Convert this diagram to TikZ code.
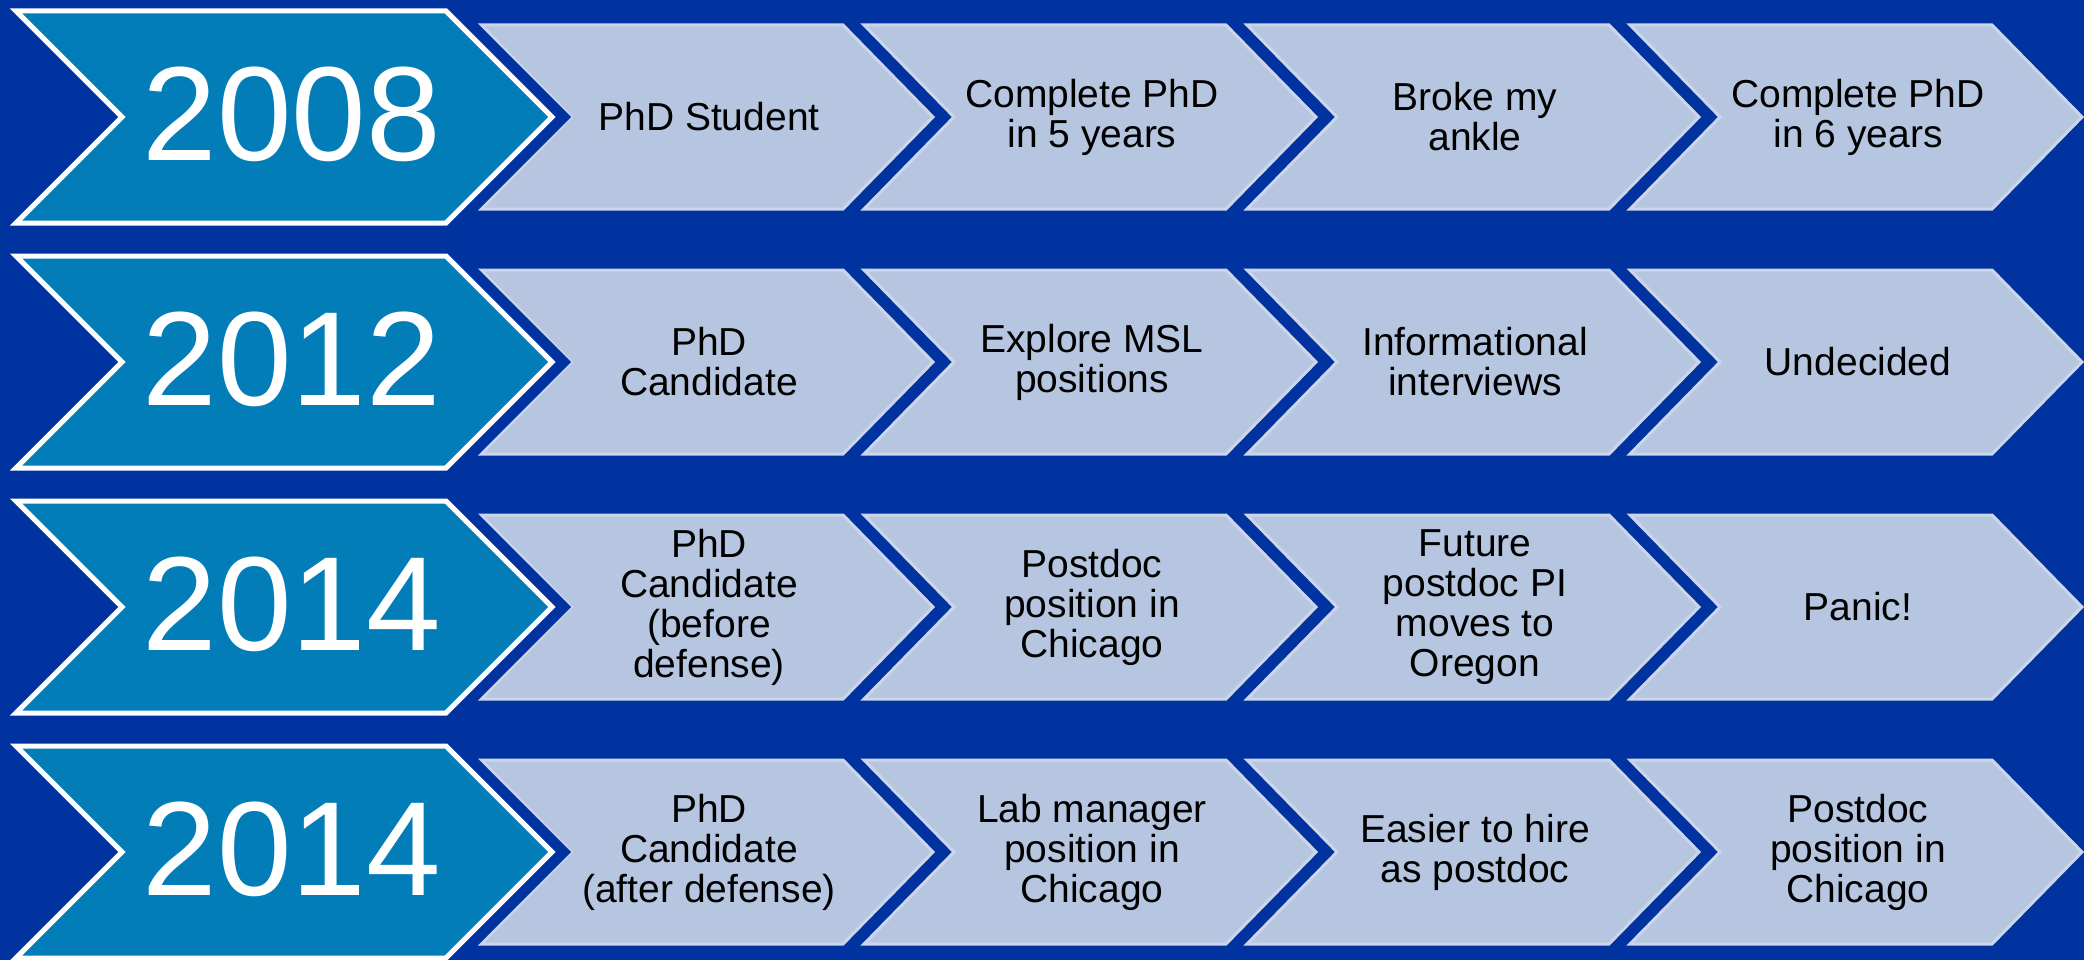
\documentclass[tikz,border=0pt]{standalone}
\usepackage{fontspec}
\setmainfont{Liberation Sans}
\definecolor{bg}{RGB}{0,51,160}
\definecolor{yearfill}{RGB}{2,125,184}
\definecolor{lightfill}{RGB}{182,198,224}
\definecolor{lightedge}{RGB}{204,214,234}
\tikzset{
  lightchev/.style={fill=lightfill, draw=lightedge, line width=3pt, line join=miter},
  yearshadow/.style={draw=bg, line width=27pt, line join=miter, miter limit=10},
  yearchev/.style={fill=yearfill, draw=white, line width=5pt, line join=miter, miter limit=10},
  yeartxt/.style={text=white, font=\fontsize{134}{134}\selectfont, inner sep=0pt},
  steptxt/.style={text=black, align=center, font=\fontsize{39}{40}\selectfont, inner sep=0pt}
}
\begin{document}
\begin{tikzpicture}[x=1pt,y=-1pt]
\useasboundingbox (0,0) rectangle (2084,960);
\fill[bg] (0,0) rectangle (2084,960);
\foreach \cy in {117,362,607,852}{
  \foreach \x in {481,864,1247,1630}{
    \filldraw[lightchev] (\x,\cy-92) -- ++(362,0) -- ++(90,92) -- ++(-90,92) -- ++(-362,0) -- ++(90,-92) -- cycle;
  }
  \draw[yearshadow] (16,\cy-106) -- (446,\cy-106) -- (552,\cy) -- (446,\cy+106) -- (16,\cy+106) -- (122,\cy) -- cycle;
  \filldraw[yearchev] (16,\cy-106) -- (446,\cy-106) -- (552,\cy) -- (446,\cy+106) -- (16,\cy+106) -- (122,\cy) -- cycle;
}
% row 1
\node[yeartxt] (y1) at (292,114) {2008};
\node[steptxt] (r1c1) at (709,117) {PhD Student};
\node[steptxt] (r1c2) at (1092,117) {Complete PhD\\in 5 years};
\node[steptxt] (r1c3) at (1475,117) {Broke my\\ankle};
\node[steptxt] (r1c4) at (1858,117) {Complete PhD\\in 6 years};
% row 2
\node[yeartxt] (y2) at (292,359) {2012};
\node[steptxt] (r2c1) at (709,362) {PhD\\Candidate};
\node[steptxt] (r2c2) at (1092,362) {Explore MSL\\positions};
\node[steptxt] (r2c3) at (1475,362) {Informational\\interviews};
\node[steptxt] (r2c4) at (1858,362) {Undecided};
% row 3
\node[yeartxt] (y3) at (292,604) {2014};
\node[steptxt] (r3c1) at (709,607) {PhD\\Candidate\\(before\\defense)};
\node[steptxt] (r3c2) at (1092,607) {Postdoc\\position in\\Chicago};
\node[steptxt] (r3c3) at (1475,607) {Future\\postdoc PI\\moves to\\Oregon};
\node[steptxt] (r3c4) at (1858,607) {Panic!};
% row 4
\node[yeartxt] (y4) at (292,849) {2014};
\node[steptxt] (r4c1) at (709,852) {PhD\\Candidate\\(after defense)};
\node[steptxt] (r4c2) at (1092,852) {Lab manager\\position in\\Chicago};
\node[steptxt] (r4c3) at (1475,852) {Easier to hire\\as postdoc};
\node[steptxt] (r4c4) at (1858,852) {Postdoc\\position in\\Chicago};
\end{tikzpicture}
\end{document}
